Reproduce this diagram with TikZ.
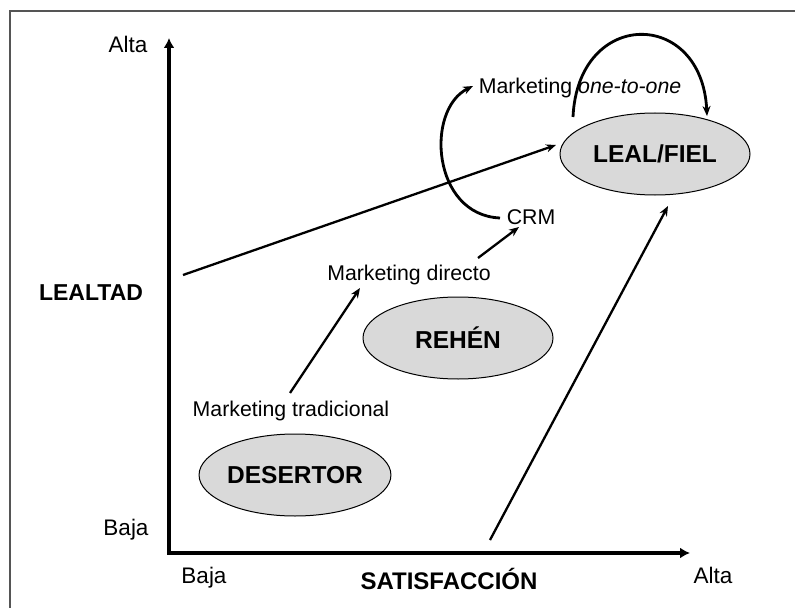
\documentclass[tikz,border=0pt]{standalone}
\usepackage{fontspec}
\setmainfont{Liberation Sans}
\usetikzlibrary{arrows.meta,shapes.geometric}
\definecolor{framegray}{RGB}{85,85,85}
\definecolor{segfill}{RGB}{217,217,217}
\begin{document}
\begin{tikzpicture}[x=1bp,y=-1bp,
  lbl/.style={inner sep=0pt,anchor=base,font=\fontsize{21.3bp}{25bp}\selectfont},
  axlbl/.style={inner sep=0pt,anchor=base,font=\fontsize{22.5bp}{26bp}\selectfont},
  boldlbl/.style={inner sep=0pt,anchor=base,font=\fontsize{24bp}{28bp}\selectfont\bfseries},
  seg/.style={ellipse,draw=black,line width=1bp,fill=segfill,minimum width=190bp,minimum height=82bp,inner sep=0pt,font=\fontsize{24.5bp}{28bp}\selectfont\bfseries},
  conn/.style={line width=2.3bp,-{Stealth[length=10bp,width=8bp]}},
  curvy/.style={line width=2.8bp,-{Stealth[length=10bp,width=8bp]}},
  axisline/.style={line width=4.5bp,{Latex[length=10bp,width=11bp]}-{Latex[length=10bp,width=11bp]}}]
\useasboundingbox (0,0) rectangle (795,608);
\fill[white] (0,0) rectangle (795,608);
% frame (top and left edges visible)
\coordinate (fb) at (10,610);
\coordinate (fc) at (10,11);
\coordinate (fr) at (797,11);
\draw[line width=2.2bp,draw=framegray] (fb) -- (fc) -- (fr);
% axes
\coordinate (O) at (169,553);
\coordinate (ytop) at (169,38);
\coordinate (xend) at (690,553);
\draw[axisline] (ytop) -- (O) -- (xend);
% axis labels
\node[axlbl] (altaY) at (128,53) {Alta};
\node[axlbl] (bajaY) at (126,535) {Baja};
\node[boldlbl,font=\fontsize{23bp}{27bp}\selectfont\bfseries] (lealtad) at (91,300) {LEALTAD};
\node[axlbl] (bajaX) at (204,583) {Baja};
\node[boldlbl] (satisf) at (449,589) {SATISFACCIÓN};
\node[axlbl] (altaX) at (713,583) {Alta};
% segments
\node[seg] (desertor) at (295,475) {DESERTOR};
\node[seg] (rehen) at (458,338) {REHÉN};
\node[seg] (leal) at (655,154) {LEAL/FIEL};
% strategy labels
\node[lbl] (mtrad) at (291,416) {Marketing tradicional};
\node[lbl] (mdir) at (409,280) {Marketing directo};
\node[lbl] (crm) at (531,225) {CRM};
\node[lbl] (m121) at (580,94) {Marketing \textit{one-to-one}};
% connectors
\coordinate (a1s) at (290,393);
\coordinate (a1e) at (360,288);
\draw[conn] (a1s) -- (a1e);
\coordinate (a2s) at (478,258);
\coordinate (a2e) at (519,227);
\draw[conn] (a2s) -- (a2e);
\coordinate (a3s) at (183,275);
\coordinate (a3e) at (556,145);
\draw[conn] (a3s) -- (a3e);
\coordinate (a4s) at (490,540);
\coordinate (a4e) at (668,206);
\draw[conn] (a4s) -- (a4e);
\coordinate (c1s) at (500,218);
\coordinate (c1e) at (473,86);
\draw[curvy] (c1s) .. controls (432,215) and (425,110) .. (c1e);
\coordinate (c2s) at (573,117);
\coordinate (c2e) at (707,116);
\draw[curvy] (c2s) .. controls (578,8) and (702,8) .. (c2e);
\end{tikzpicture}
\end{document}
